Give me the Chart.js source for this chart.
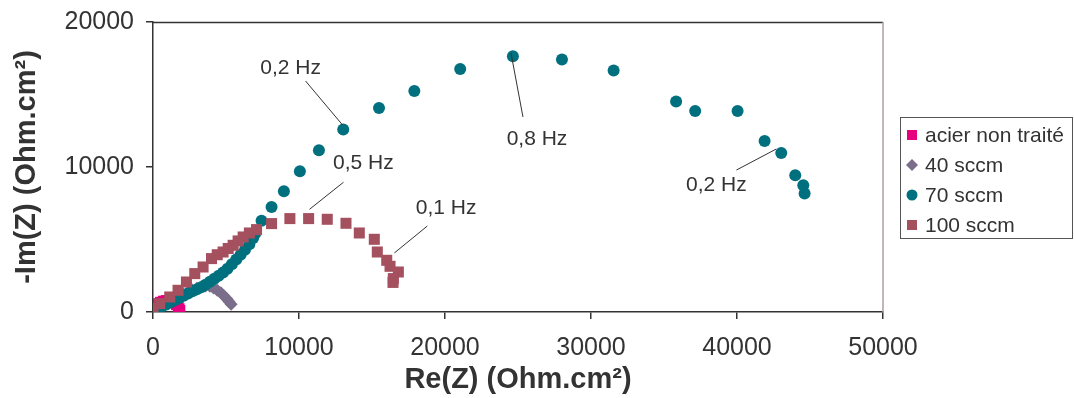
<!DOCTYPE html>
<html>
<head>
<meta charset="utf-8">
<script src="https://cdn.jsdelivr.net/npm/chart.js@4/dist/chart.umd.min.js"></script>
<style>
  html, body { margin: 0; padding: 0; background: #fff; }
  #wrap { width: 1074px; height: 398px; position: relative; }
</style>
</head>
<body>
<div id="wrap"><canvas id="myChart" width="1074" height="398"></canvas></div>
<script>
const seriesNames = ["acier non traité", "40 sccm", "70 sccm", "100 sccm"];
const seriesColors = ["#e6007e", "#7b6e8a", "#00707f", "#a5505f"];
const seriesStyles = ["rect", "rectRot", "circle", "rect"];

// [Re(Z), -Im(Z)]
const acier = [[30, 120], [100, 300], [200, 450], [350, 580], [500, 680], [700, 760], [900, 800],
  [1100, 790], [1300, 730], [1450, 630], [1600, 500], [1720, 360], [1800, 230], [1850, 110]];

const sccm40 = [[100, 60], [300, 200], [600, 400], [900, 580], [1200, 760], [1500, 930], [1800, 1080],
  [2100, 1230], [2400, 1380], [2700, 1510], [3000, 1630], [3300, 1730], [3600, 1800], [3900, 1780],
  [4150, 1650], [4400, 1500], [4650, 1320], [4850, 1120], [5050, 920], [5200, 720], [5350, 530]];

const sccm70 = [[100, 50], [300, 200], [600, 380], [900, 520], [1200, 680], [1500, 830], [1800, 970],
  [2100, 1120], [2400, 1280], [2700, 1430], [3000, 1560], [3300, 1700], [3600, 1880], [3900, 2080],
  [4200, 2300], [4500, 2500], [4800, 2720], [5100, 2980], [5400, 3300], [5700, 3620], [6000, 3950],
  [6300, 4300], [6600, 4680], [6860, 5100], [7000, 5420], [7435, 6300], [8120, 7240], [8965, 8325],
  [10060, 9700], [11365, 11150], [13030, 12580], [15480, 14070], [17900, 15240], [21040, 16760],
  [24650, 17640], [28010, 17410], [31550, 16650], [35830, 14510], [37135, 13860], [40040, 13860],
  [41890, 11790], [43030, 10970], [43990, 9430], [44540, 8740], [44630, 8170]];

const sccm100 = [[0, 235], [460, 580], [1145, 1035], [1715, 1497], [2291, 2069], [2860, 2648],
  [3430, 3104], [4006, 3683], [4400, 3950], [4801, 4138], [5150, 4380], [5487, 4600], [5830, 4900],
  [6173, 5173], [6600, 5450], [7092, 5683], [8121, 6097], [9376, 6442], [10659, 6442], [11935, 6394],
  [13218, 6118], [14130, 5449], [15158, 5014], [15364, 4138], [16009, 3566], [16235, 3152],
  [16805, 2759], [16462, 2304], [16440, 2040]];

const xTicks = [0, 10000, 20000, 30000, 40000, 50000];
const yTicks = [0, 10000, 20000];

// frequency notes: label, text position, leader line start -> end (data units)
const notes = [
  { text: "0,2 Hz", at: [9430, 16830], from: [10450, 15930], to: [12980, 12900] },
  { text: "0,5 Hz", at: [14410, 10280], from: [13050, 8950], to: [10720, 7080] },
  { text: "0,1 Hz", at: [20080, 7170], from: [18790, 5930], to: [16530, 4070] },
  { text: "0,8 Hz", at: [26300, 11930], from: [24520, 17860], to: [25340, 13450] },
  { text: "0,2 Hz", at: [38590, 8760], from: [39960, 9790], to: [42690, 11240] }
];

const FONT = "'Liberation Sans', Arial, sans-serif";
const TEXT = "#333333";

const allSeries = [acier, sccm40, sccm70, sccm100];
const sizes = [7.5, 6.5, 6, 7.8];

const datasets = allSeries.map((s, i) => ({
  label: seriesNames[i],
  data: s.map(p => ({ x: p[0], y: p[1] })),
  pointStyle: seriesStyles[i],
  pointRadius: sizes[i],
  pointBackgroundColor: seriesColors[i],
  pointBorderWidth: 0,
  pointBorderColor: seriesColors[i],
  showLine: false,
  order: allSeries.length - 1 - i
}));

const framePlugin = {
  id: "frame",
  beforeDatasetsDraw(chart) {
    const { ctx, chartArea: a } = chart;
    ctx.save();
    ctx.lineWidth = 1.5;
    ctx.strokeStyle = "#333333";
    ctx.beginPath();
    ctx.moveTo(a.left, a.top + 0.5);
    ctx.lineTo(a.right, a.top + 0.5);
    ctx.stroke();
    ctx.strokeStyle = "#a8a0a0";
    ctx.beginPath();
    ctx.moveTo(a.right, a.top);
    ctx.lineTo(a.right, a.bottom);
    ctx.stroke();
    ctx.restore();
  },
  afterDatasetsDraw(chart) {
    const { ctx } = chart;
    const xs = chart.scales.x, ys = chart.scales.y;
    ctx.save();
    ctx.strokeStyle = "#333333";
    ctx.lineWidth = 1;
    ctx.fillStyle = TEXT;
    ctx.font = "21px " + FONT;
    ctx.textAlign = "center";
    ctx.textBaseline = "middle";
    notes.forEach(n => {
      ctx.beginPath();
      ctx.moveTo(xs.getPixelForValue(n.from[0]), ys.getPixelForValue(n.from[1]));
      ctx.lineTo(xs.getPixelForValue(n.to[0]), ys.getPixelForValue(n.to[1]));
      ctx.stroke();
      ctx.fillText(n.text, xs.getPixelForValue(n.at[0]), ys.getPixelForValue(n.at[1]));
    });
    ctx.restore();
  },
  afterDraw(chart) {
    // legend box
    const { ctx } = chart;
    const bx = 900, by = 117, bw = 172, bh = 121, rowH = 30;
    ctx.save();
    ctx.strokeStyle = "#555555";
    ctx.lineWidth = 1;
    ctx.strokeRect(bx + 0.5, by + 0.5, bw, bh);
    ctx.font = "21px " + FONT;
    ctx.textBaseline = "middle";
    ctx.textAlign = "left";
    chart.data.datasets.forEach((ds, i) => {
      const cy = by + 18 + i * rowH;
      const cx = 912;
      ctx.fillStyle = seriesColors[i];
      if (seriesStyles[i] === "rect") {
        ctx.fillRect(cx - 5, cy - 5, 10, 10);
      } else if (seriesStyles[i] === "rectRot") {
        ctx.beginPath();
        ctx.moveTo(cx, cy - 6); ctx.lineTo(cx + 6, cy); ctx.lineTo(cx, cy + 6); ctx.lineTo(cx - 6, cy);
        ctx.closePath(); ctx.fill();
      } else {
        ctx.beginPath(); ctx.arc(cx, cy, 5.5, 0, Math.PI * 2); ctx.fill();
      }
      ctx.fillStyle = TEXT;
      ctx.fillText(ds.label, 925, cy + 1);
    });
    ctx.restore();
  }
};

const ctx = document.getElementById("myChart").getContext("2d");
const myChart = new Chart(ctx, {
  type: "scatter",
  data: { datasets: datasets },
  options: {
    responsive: false,
    animation: false,
    events: [],
    layout: { padding: { top: 22, right: 191, left: 0, bottom: 0 } },
    plugins: { legend: { display: false }, tooltip: { enabled: false } },
    scales: {
      x: {
        type: "linear",
        min: 0, max: 50000,
        afterBuildTicks: s => { s.ticks = xTicks.map(v => ({ value: v })); },
        afterFit: s => { s.height = 86; s.paddingLeft = 0; s.paddingRight = 0; },
        ticks: { color: TEXT, font: { family: FONT, size: 25 }, padding: 14, maxRotation: 0,
          callback: v => String(v) },
        grid: { drawOnChartArea: false, tickLength: 7, color: "#333333", lineWidth: 1.5 },
        border: { color: "#333333", width: 1.5 },
        title: { display: true, text: "Re(Z) (Ohm.cm²)", color: TEXT,
          font: { family: FONT, size: 29, weight: "bold" }, padding: { top: 0, bottom: 1 } }
      },
      y: {
        type: "linear",
        min: 0, max: 20000,
        afterBuildTicks: s => { s.ticks = yTicks.map(v => ({ value: v })); },
        afterFit: s => { s.width = 153; s.paddingTop = 0; s.paddingBottom = 0; },
        ticks: { color: TEXT, font: { family: FONT, size: 25 }, padding: 12,
          callback: v => String(v) },
        grid: { drawOnChartArea: false, tickLength: 7, color: "#333333", lineWidth: 1.5 },
        border: { color: "#333333", width: 1.5 },
        title: { display: true, text: "-Im(Z) (Ohm.cm²)", color: TEXT,
          font: { family: FONT, size: 29, weight: "bold" }, padding: { top: 10, bottom: 0 } }
      }
    }
  },
  plugins: [framePlugin]
});
</script>
</body>
</html>
